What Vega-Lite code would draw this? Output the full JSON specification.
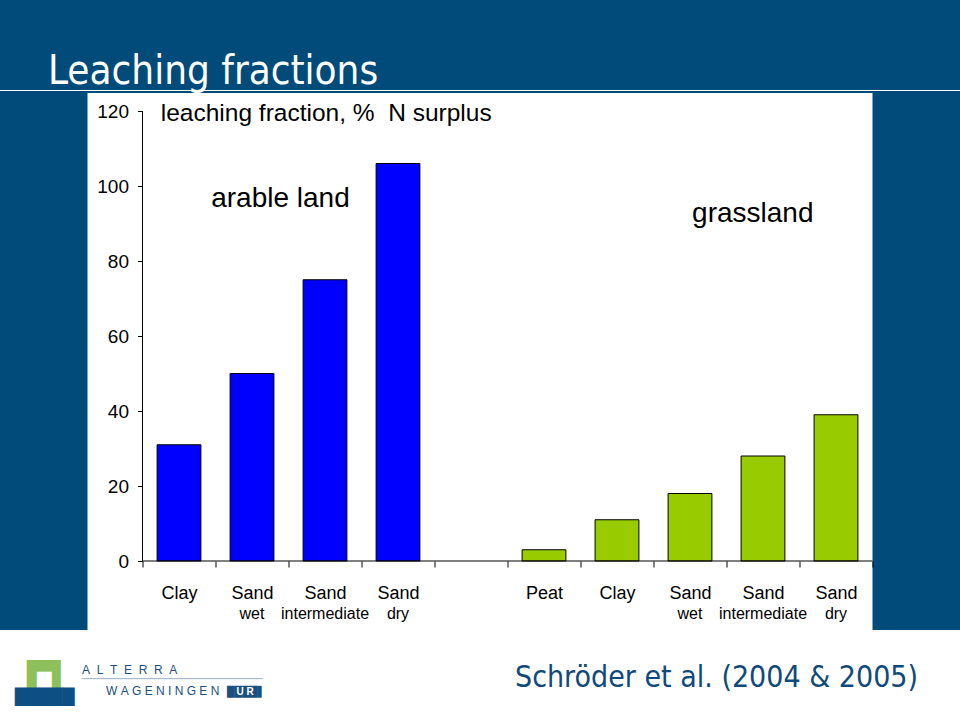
{
  "$schema": "https://vega.github.io/schema/vega-lite/v6.json",
  "background": "#004b7a",
  "padding": 0,
  "config": {"view": {"stroke": null}, "font": "Liberation Sans"},
  "datasets": {
    "bars": [
      {"cat": "Clay||a", "soil": "Clay", "sub": "", "group": "arable", "v": 31},
      {"cat": "Sand|wet|a", "soil": "Sand", "sub": "wet", "group": "arable", "v": 50},
      {"cat": "Sand|intermediate|a", "soil": "Sand", "sub": "intermediate", "group": "arable", "v": 75},
      {"cat": "Sand|dry|a", "soil": "Sand", "sub": "dry", "group": "arable", "v": 106},
      {"cat": "Peat||g", "soil": "Peat", "sub": "", "group": "grass", "v": 3},
      {"cat": "Clay||g", "soil": "Clay", "sub": "", "group": "grass", "v": 11},
      {"cat": "Sand|wet|g", "soil": "Sand", "sub": "wet", "group": "grass", "v": 18},
      {"cat": "Sand|intermediate|g", "soil": "Sand", "sub": "intermediate", "group": "grass", "v": 28},
      {"cat": "Sand|dry|g", "soil": "Sand", "sub": "dry", "group": "grass", "v": 39}
    ]
  },
  "spacing": 0,
  "center": true,
  "bounds": "flush",
  "vconcat": [
    {
      "width": 960,
      "height": 90,
      "view": {"stroke": null},
      "data": {"values": [{}]},
      "mark": {"type": "text", "text": "Leaching fractions", "align": "left", "baseline": "alphabetic", "dx": -432, "dy": 39, "font": "Liberation Sans Narrow, DejaVu Sans Condensed, sans-serif", "fontSize": 40, "color": "white"},
      "encoding": {}
    },
    {
      "width": 960,
      "height": 1,
      "view": {"fill": "white", "stroke": null},
      "data": {"values": [{}]},
      "mark": {"type": "text", "text": " "},
      "encoding": {}
    },
    {
      "width": 960,
      "height": 2,
      "view": {"stroke": null},
      "data": {"values": [{}]},
      "mark": {"type": "text", "text": " "},
      "encoding": {}
    },
    {
      "width": 785,
      "height": 537,
      "view": {"fill": "white", "stroke": null},
      "layer": [
        {
          "data": {"name": "bars"},
          "mark": {"type": "bar", "width": {"band": 0.6}, "stroke": "black", "strokeWidth": 1},
          "encoding": {
            "x": {
              "field": "cat", "type": "nominal", "sort": null, "title": null,
              "scale": {"type": "band", "domain": ["Clay||a", "Sand|wet|a", "Sand|intermediate|a", "Sand|dry|a", "||gap", "Peat||g", "Clay||g", "Sand|wet|g", "Sand|intermediate|g", "Sand|dry|g"], "paddingInner": 0, "paddingOuter": 0.3767, "align": 1, "round": false},
              "axis": {"orient": "bottom", "offset": -69, "title": null, "domain": false, "grid": false, "ticks": true, "tickBand": "extent", "tickSize": 6, "tickColor": "black", "labelExpr": "isValid(datum.value) ? split(datum.value, '|')[0] : ''", "labelAngle": 0, "labelFontSize": 18, "labelColor": "black", "labelBaseline": "alphabetic", "labelPadding": 31, "labelOverlap": false, "labelBound": false, "labelFlush": false}
            },
            "y": {
              "field": "v", "type": "quantitative", "stack": null, "title": null,
              "scale": {"domain": [-18.4, 124.8], "nice": false, "zero": false},
              "axis": {"title": null, "orient": "left", "values": [0, 20, 40, 60, 80, 100, 120], "offset": -55, "domain": false, "grid": false, "ticks": true, "tickSize": 5, "tickColor": "black", "labelFontSize": 19, "labelColor": "black", "labelPadding": 9}
            },
            "color": {"field": "group", "type": "nominal", "scale": {"domain": ["arable", "grass"], "range": ["#0000FF", "#99CC00"]}, "legend": null}
          }
        },
        {
          "data": {"name": "bars"},
          "mark": {"type": "text", "fontSize": 16, "baseline": "alphabetic", "align": "center", "color": "black"},
          "encoding": {
            "x": {"field": "cat", "type": "nominal", "sort": null, "title": null},
            "y": {"datum": -15.5, "type": "quantitative", "title": null},
            "text": {"field": "sub"}
          }
        },
        {
          "data": {"values": [{}]},
          "mark": {"type": "rule", "color": "black", "strokeWidth": 1},
          "encoding": {
            "x": {"datum": "Clay||a", "type": "nominal", "bandPosition": 0, "title": null},
            "y": {"datum": 0, "type": "quantitative", "title": null},
            "y2": {"datum": 120}
          }
        },
        {
          "data": {"values": [{}]},
          "mark": {"type": "rule", "color": "black", "strokeWidth": 1},
          "encoding": {
            "x": {"datum": "Clay||a", "type": "nominal", "bandPosition": 0, "title": null},
            "x2": {"datum": "Sand|dry|g", "bandPosition": 1},
            "y": {"datum": 0, "type": "quantitative", "title": null}
          }
        },
        {
          "data": {"values": [{}]},
          "mark": {"type": "text", "text": "leaching fraction, %\u00a0 N surplus", "align": "left", "baseline": "alphabetic", "fontSize": 24.5, "color": "black"},
          "encoding": {
            "x": {"datum": "Clay||a", "type": "nominal", "bandPosition": 0.25, "title": null},
            "y": {"datum": 117.3, "type": "quantitative", "title": null}
          }
        },
        {
          "data": {"values": [{}]},
          "mark": {"type": "text", "text": "arable land", "align": "center", "baseline": "alphabetic", "fontSize": 28, "color": "black"},
          "encoding": {
            "x": {"datum": "Sand|wet|a", "type": "nominal", "bandPosition": 0.89, "title": null},
            "y": {"datum": 94.4, "type": "quantitative", "title": null}
          }
        },
        {
          "data": {"values": [{}]},
          "mark": {"type": "text", "text": "grassland", "align": "center", "baseline": "alphabetic", "fontSize": 28, "color": "black"},
          "encoding": {
            "x": {"datum": "Sand|intermediate|g", "type": "nominal", "bandPosition": 0.36, "title": null},
            "y": {"datum": 90.4, "type": "quantitative", "title": null}
          }
        }
      ]
    },
    {
      "width": 960,
      "height": 90,
      "view": {"fill": "white", "stroke": null},
      "data": {"values": [{}]},
      "layer": [
        {"mark": {"type": "text", "text": "█▋", "font": "DejaVu Sans", "fontSize": 27, "align": "left", "baseline": "alphabetic", "dx": -453, "dy": 10, "color": "#8dbf5a"}, "encoding": {}},
        {"mark": {"type": "text", "text": "█", "font": "DejaVu Sans", "fontSize": 18.75, "align": "left", "baseline": "alphabetic", "dx": -443, "dy": 14.4, "color": "white"}, "encoding": {}},
        {"mark": {"type": "text", "text": "▄▄▖", "font": "DejaVu Sans", "fontSize": 31, "align": "left", "baseline": "alphabetic", "dx": -465, "dy": 22.7, "color": "#0e4f83"}, "encoding": {}},
        {"mark": {"type": "text", "text": "A\u00a0\u00a0L\u00a0\u00a0T\u00a0\u00a0E\u00a0\u00a0R\u00a0\u00a0R\u00a0\u00a0A", "fontSize": 12, "align": "left", "baseline": "alphabetic", "dx": -398, "dy": -1, "color": "#1b4f7f"}, "encoding": {}},
        {"mark": {"type": "text", "text": "─────────────────────────", "font": "DejaVu Sans", "fontSize": 12, "align": "left", "baseline": "alphabetic", "dx": -398, "dy": 8, "color": "#9db3c8"}, "encoding": {}},
        {"mark": {"type": "text", "text": "W\u00a0A\u00a0G\u00a0E\u00a0N\u00a0I\u00a0N\u00a0G\u00a0E\u00a0N", "fontSize": 12, "align": "left", "baseline": "alphabetic", "dx": -374, "dy": 20, "color": "#1b4f7f"}, "encoding": {}},
        {"mark": {"type": "text", "text": "████▌", "font": "DejaVu Sans", "fontSize": 10, "align": "left", "baseline": "alphabetic", "dx": -253, "dy": 20.3, "color": "#1b4f7f"}, "encoding": {}},
        {"mark": {"type": "text", "text": "U\u00a0R", "fontSize": 10, "fontWeight": "bold", "align": "center", "baseline": "alphabetic", "dx": -235, "dy": 20, "color": "white"}, "encoding": {}},
        {"mark": {"type": "text", "text": "Schröder et al. (2004 & 2005)", "font": "Liberation Sans Narrow, DejaVu Sans Condensed, sans-serif", "fontSize": 30, "align": "right", "baseline": "alphabetic", "dx": 438, "dy": 12, "color": "#0f4a7a"}, "encoding": {}}
      ]
    }
  ]
}
